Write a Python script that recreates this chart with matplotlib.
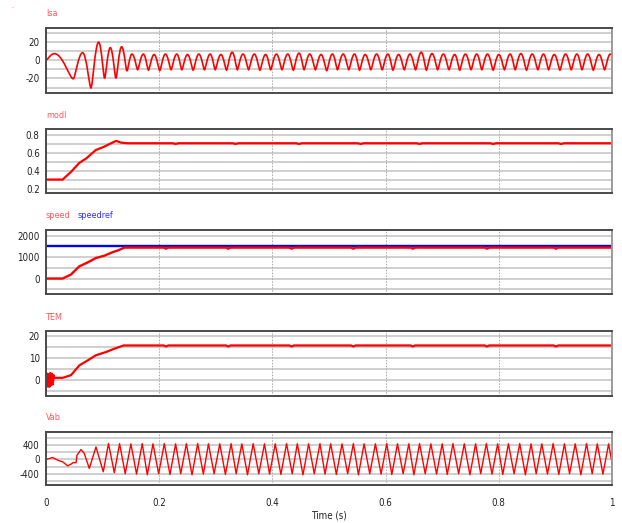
import matplotlib
matplotlib.use('Agg')
import matplotlib.pyplot as plt
from matplotlib.path import Path
from matplotlib.patches import PathPatch

plt.rcParams['font.family'] = ['Liberation Sans Narrow', 'DejaVu Sans']
plt.rcParams['font.stretch'] = 'condensed'

# ---- data ----
# Isa : start-up transient extremes, then steady peaks / troughs
isa_start_t = [0.0, 0.0147, 0.0482, 0.0647, 0.0795, 0.093, 0.1036, 0.1136, 0.1236, 0.1336, 0.143]
isa_start_v = [0.0, 7.0, -20.5, 8.0, -30.5, 19.5, -20.0, 13.5, -20.0, 14.5, -12.0]
isa_peak_t = [0.152, 0.172, 0.191, 0.211, 0.231, 0.250, 0.270, 0.290, 0.309, 0.329, 0.348,
              0.368, 0.388, 0.407, 0.427, 0.447, 0.466, 0.486, 0.506, 0.525, 0.545, 0.564,
              0.584, 0.604, 0.623, 0.643, 0.663, 0.682, 0.702, 0.722, 0.741, 0.761, 0.780,
              0.800, 0.820, 0.839, 0.859, 0.879, 0.898, 0.918, 0.938, 0.957, 0.977, 0.997]
isa_peak_v = [6.5, 6.5, 6.0, 6.5, 6.5, 6.0, 6.5, 6.5, 6.0, 8.5, 6.5,
              6.5, 6.0, 6.5, 6.5, 7.5, 6.5, 6.0, 6.5, 6.5, 6.5, 6.0,
              6.5, 6.5, 6.0, 6.5, 8.5, 7.0, 6.5, 6.0, 6.5, 6.5, 6.5,
              6.0, 6.5, 7.0, 6.5, 6.5, 6.0, 6.5, 6.5, 6.5, 6.0, 6.5]
isa_trough_t = [0.162, 0.181, 0.201, 0.221, 0.240, 0.260, 0.280, 0.299, 0.319, 0.338, 0.358,
                0.378, 0.397, 0.417, 0.437, 0.456, 0.476, 0.496, 0.515, 0.535, 0.554, 0.574,
                0.594, 0.613, 0.633, 0.653, 0.672, 0.692, 0.712, 0.731, 0.751, 0.770, 0.790,
                0.810, 0.829, 0.849, 0.869, 0.888, 0.908, 0.928, 0.947, 0.967, 0.987]
isa_trough_v = [-10.5, -11.0, -11.5, -10.5, -10.5, -11.0, -10.5, -10.5, -11.0, -10.5, -10.5,
                -11.0, -10.5, -10.5, -11.0, -10.5, -10.5, -11.5, -10.5, -10.5, -11.0, -10.5,
                -10.5, -11.0, -10.5, -10.5, -11.0, -10.5, -10.5, -11.0, -10.5, -10.5, -11.0,
                -10.5, -10.5, -11.0, -10.5, -10.5, -11.0, -10.5, -10.5, -11.0, -10.5]
isa_end = (1.0, 5.0)

# modl
modl_t = [0.0, 0.0294, 0.044, 0.059, 0.071, 0.088, 0.103, 0.115, 0.124, 0.1325, 0.1443,
          0.224, 0.229, 0.234, 0.330, 0.335, 0.340, 0.442, 0.447, 0.452, 0.551, 0.556, 0.561,
          0.655, 0.660, 0.665, 0.785, 0.790, 0.795, 0.905, 0.910, 0.915, 1.0]
modl_v = [0.30, 0.30, 0.385, 0.487, 0.536, 0.63, 0.668, 0.706, 0.732, 0.713, 0.706,
          0.706, 0.698, 0.706, 0.706, 0.698, 0.706, 0.706, 0.698, 0.706, 0.706, 0.698, 0.706,
          0.706, 0.698, 0.706, 0.706, 0.698, 0.706, 0.706, 0.698, 0.706, 0.706]

# speed and speedref
speed_t = [0.0, 0.0294, 0.044, 0.059, 0.074, 0.088, 0.103, 0.118, 0.127, 0.1385,
           0.208, 0.212, 0.216, 0.318, 0.322, 0.326, 0.430, 0.434, 0.438, 0.539, 0.543, 0.547,
           0.644, 0.648, 0.652, 0.775, 0.779, 0.783, 0.897, 0.901, 0.905, 1.0]
speed_v = [0, 0, 185, 570, 754, 954, 1062, 1230, 1308, 1440,
           1440, 1390, 1440, 1440, 1390, 1440, 1440, 1390, 1440, 1440, 1390, 1440,
           1440, 1390, 1440, 1440, 1390, 1440, 1440, 1390, 1440, 1440]
speedref_t = [0.0, 1.0]
speedref_v = [1500, 1500]

# TEM
tem_t = [0.0, 0.0015, 0.003, 0.0045, 0.006, 0.0075, 0.009, 0.0105, 0.012, 0.0135, 0.0147,
         0.0294, 0.044, 0.059, 0.074, 0.088, 0.106, 0.1207, 0.1371,
         0.208, 0.212, 0.216, 0.318, 0.322, 0.326, 0.430, 0.434, 0.438, 0.539, 0.543, 0.547,
         0.644, 0.648, 0.652, 0.775, 0.779, 0.783, 0.897, 0.901, 0.905, 1.0]
tem_v = [0.0, 2.8, -3.2, 2.5, -3.3, 3.0, -2.6, 2.7, -2.2, 2.0, 0.8,
         0.8, 2.0, 6.5, 8.8, 11.1, 12.6, 14.1, 15.6,
         15.6, 15.1, 15.6, 15.6, 15.1, 15.6, 15.6, 15.1, 15.6, 15.6, 15.1, 15.6,
         15.6, 15.1, 15.6, 15.6, 15.1, 15.6, 15.6, 15.1, 15.6, 15.6]

# Vab : transient, then alternating peaks / troughs
vab_start_t = [0.0, 0.0117, 0.0206, 0.0294, 0.0383, 0.0442, 0.0483, 0.053, 0.0548, 0.0618,
               0.0677, 0.0765, 0.0883, 0.1012, 0.1104, 0.1207]
vab_start_v = [0, 56, -19, -65, -177, -130, -84, -93, 121, 279, 167, -251, 353, -344, 447, -372]
vab_peak_t = [0.130, 0.150, 0.170, 0.189, 0.209, 0.229, 0.248, 0.268, 0.287, 0.307, 0.327,
              0.346, 0.366, 0.386, 0.405, 0.425, 0.444, 0.464, 0.484, 0.503, 0.523, 0.543,
              0.562, 0.582, 0.602, 0.621, 0.641, 0.660, 0.680, 0.700, 0.719, 0.739, 0.759,
              0.778, 0.798, 0.817, 0.837, 0.857, 0.876, 0.896, 0.916, 0.935, 0.955, 0.974, 0.994]
vab_peak_v = [445, 440, 445, 440, 445, 440, 440, 445, 440, 440, 445,
              440, 445, 440, 440, 445, 440, 440, 445, 440, 440, 445,
              440, 440, 445, 440, 440, 445, 440, 440, 445, 440, 440,
              445, 440, 440, 445, 440, 440, 445, 440, 440, 445, 440, 440]
vab_trough_t = [0.140, 0.160, 0.179, 0.199, 0.219, 0.238, 0.258, 0.278, 0.297, 0.317, 0.336,
                0.356, 0.376, 0.395, 0.415, 0.435, 0.454, 0.474, 0.493, 0.513, 0.533, 0.552,
                0.572, 0.592, 0.611, 0.631, 0.650, 0.670, 0.690, 0.709, 0.729, 0.749, 0.768,
                0.788, 0.807, 0.827, 0.847, 0.866, 0.886, 0.906, 0.925, 0.945, 0.965, 0.984]
vab_trough_v = [-400, -410, -430, -400, -420, -400, -430, -410, -400, -420, -400,
                -430, -400, -410, -420, -400, -430, -400, -410, -420, -400, -430,
                -400, -410, -420, -400, -430, -400, -410, -420, -400, -430, -400,
                -410, -420, -400, -430, -400, -410, -420, -400, -430, -400, -410]
vab_end = (1.0, -90)


def interleave(a_t, a_v, b_t, b_v):
    t, v = [], []
    for i in range(len(a_t)):
        t.append(a_t[i]); v.append(a_v[i])
        if i < len(b_t):
            t.append(b_t[i]); v.append(b_v[i])
    return t, v


def smooth_path(t, v):
    # cubic bezier through the extremes, flat tangent at each extreme
    verts = [(t[0], v[0])]
    codes = [Path.MOVETO]
    for i in range(len(t) - 1):
        t0, v0, t1, v1 = t[i], v[i], t[i + 1], v[i + 1]
        dt = t1 - t0
        k0 = 0.45 if v0 > v1 else 0.2
        k1 = 0.45 if v1 > v0 else 0.2
        verts += [(t0 + k0 * dt, v0), (t1 - k1 * dt, v1), (t1, v1)]
        codes += [Path.CURVE4] * 3
    return Path(verts, codes)


W, H = 622, 523
fig = plt.figure(figsize=(W / 100, H / 100), dpi=100)

LEFT, RIGHT = 46, 612
panels = [(28, 93), (129, 193), (230, 294), (331, 396), (432, 485)]
axes = []
for top, bot in panels:
    ax = fig.add_axes([LEFT / W, 1 - bot / H, (RIGHT - LEFT) / W, (bot - top) / H])
    axes.append(ax)


def style(ax, ylim, ticks, grid, show_x=False):
    ax.set_xlim(0, 1)
    ax.set_ylim(*ylim)
    ax.set_yticks(ticks)
    ax.set_yticklabels([f'{x:g}' for x in ticks])
    for g in grid:
        ax.axhline(g, color='#cbcbcb', lw=1.3, zorder=0)
    for x in [0.2, 0.4, 0.6, 0.8]:
        ax.axvline(x, color='#a8a8a8', lw=0.7, ls=(0, (1.5, 1.5)), zorder=0)
    ax.set_xticks([0, 0.2, 0.4, 0.6, 0.8, 1.0])
    if show_x:
        ax.set_xticklabels(['0', '0.2', '0.4', '0.6', '0.8', '1'])
    else:
        ax.set_xticklabels([])
    ax.tick_params(length=0, labelsize=7, colors='#222222')
    ax.tick_params(axis='y', pad=4.5)
    ax.tick_params(axis='x', pad=9)
    for s in ['top', 'left', 'bottom']:
        ax.spines[s].set_color('#4a4a4a')
        ax.spines[s].set_linewidth(1.4)
    ax.spines['right'].set_color('#9a9a9a')
    ax.spines['right'].set_linewidth(1.4)


# Isa
ax = axes[0]
style(ax, (-36, 35), [-20, 0, 20], [-30, -20, -10, 0, 10, 20, 30])
st, sv = interleave(isa_peak_t, isa_peak_v, isa_trough_t, isa_trough_v)
it = isa_start_t + st + [isa_end[0]]
iv = isa_start_v + sv + [isa_end[1]]
ax.add_patch(PathPatch(smooth_path(it, iv), fill=False, edgecolor='red', lw=1.2))

# modl
ax = axes[1]
style(ax, (0.15, 0.865), [0.2, 0.4, 0.6, 0.8], [0.2, 0.3, 0.4, 0.5, 0.6, 0.7, 0.8])
ax.plot(modl_t, modl_v, color='red', lw=1.6)

# speed
ax = axes[2]
style(ax, (-720, 2260), [0, 1000, 2000], [-500, 0, 500, 1000, 1500, 2000])
ax.plot(speedref_t, speedref_v, color='#0000ff', lw=1.7)
ax.plot(speed_t, speed_v, color='red', lw=1.7)

# TEM
ax = axes[3]
style(ax, (-7.5, 22.2), [0, 10, 20], [-5, 0, 5, 10, 15, 20])
ax.plot(tem_t, tem_v, color='red', lw=1.6)

# Vab
ax = axes[4]
style(ax, (-716, 772), [-400, 0, 400], [-600, -400, -200, 0, 200, 400, 600], show_x=True)
vt, vv = interleave(vab_peak_t, vab_peak_v, vab_trough_t, vab_trough_v)
ax.plot(vab_start_t + vt + [vab_end[0]], vab_start_v + vv + [vab_end[1]],
        color='red', lw=1.0)

# panel titles
label_red = '#ff5a5a'
for (top, bot), name in zip(panels, ['Isa', 'modl', 'speed', 'TEM', 'Vab']):
    fig.text(LEFT / W, 1 - (top - 14) / H, name, color=label_red, fontsize=6.5, va='center', ha='left')
fig.text(78 / W, 1 - 216 / H, 'speedref', color='#3030ff', fontsize=6.5, va='center', ha='left')
fig.text(12 / W, 1 - 8 / H, '-', color=label_red, fontsize=4, va='center', ha='left')

fig.text((LEFT + RIGHT) / 2 / W, 1 - 516 / H, 'Time (s)', fontsize=7, ha='center', va='center',
         color='#222222')

fig.savefig('out.png', dpi=100)
